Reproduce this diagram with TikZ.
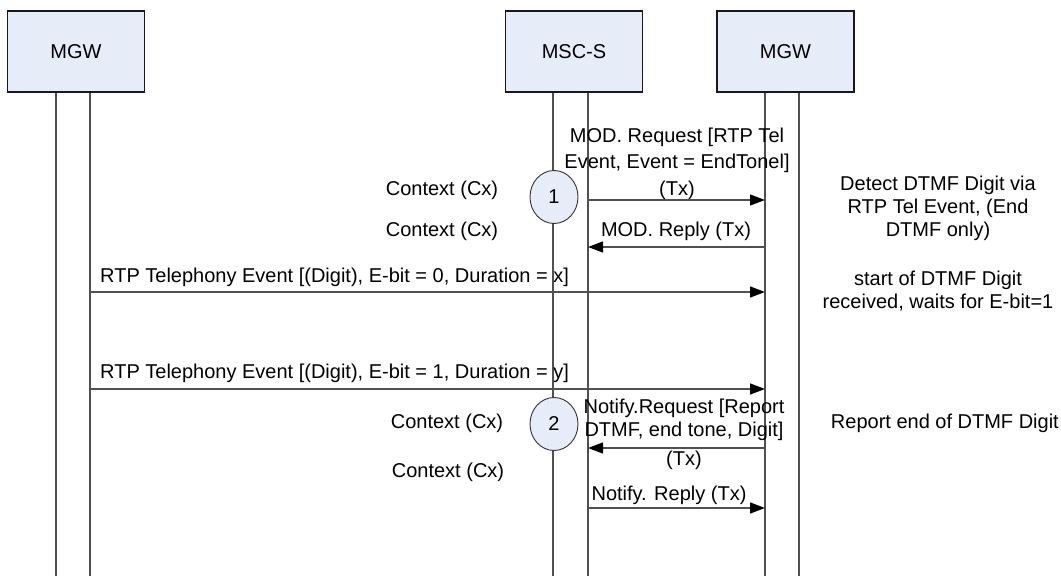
\documentclass[tikz,border=0pt]{standalone}
\usepackage{fontspec}
\setmainfont{Liberation Sans}
\usetikzlibrary{arrows.meta,shapes.geometric}
\definecolor{boxblue}{HTML}{E7EDF8}
\definecolor{linegray}{HTML}{505050}
\newcommand\fs{\fontsize{20bp}{23bp}\selectfont}
\begin{document}
\begin{tikzpicture}[x=1bp,y=-1bp,
  ent/.style={draw=black!90, fill=boxblue, line width=1.3bp, minimum width=137bp, minimum height=81bp, inner sep=0pt, font=\fs},
  life/.style={draw=linegray, line width=1.3bp},
  msg/.style={draw=linegray, line width=1.3bp, -{Triangle[length=15bp,width=11bp,color=black]}},
  lbl/.style={font=\fs, inner sep=0pt, align=center},
  circ/.style={ellipse, draw=black!80, fill=boxblue, line width=0.9bp, minimum width=48bp, minimum height=53bp, inner sep=0pt, font=\fs}
]
\useasboundingbox (0,0) rectangle (1061,576);

% entities
\node[ent] (mgwA) at (76,51.5) {MGW};
\node[ent] (msc) at (574,51.5) {MSC-S};
\node[ent] (mgwB) at (785.5,51.5) {MGW};

% lifeline coordinates
\coordinate (a1) at (56,576);
\coordinate (a2) at (90,576);
\coordinate (m1) at (553,576);
\coordinate (m2) at (588,576);
\coordinate (b1) at (765,576);
\coordinate (b2) at (799,576);

\draw[life] (mgwA.south -| a1) -- (a1);
\draw[life] (mgwA.south -| a2) -- (a2);
\draw[life] (msc.south -| m1) -- (m1);
\draw[life] (msc.south -| m2) -- (m2);
\draw[life] (mgwB.south -| b1) -- (b1);
\draw[life] (mgwB.south -| b2) -- (b2);

% messages
\draw[msg] (m2 |- 0,200) -- (b1 |- 0,200);
\draw[msg] (b1 |- 0,247) -- (m2 |- 0,247);
\draw[msg] (a2 |- 0,292) -- (b1 |- 0,292);
\draw[msg] (a2 |- 0,389) -- (b1 |- 0,389);
\draw[msg] (b1 |- 0,448) -- (m2 |- 0,448);
\draw[msg] (m2 |- 0,508) -- (b1 |- 0,508);

% circles
\node[circ] (c1) at (554,197) {1};
\node[circ] (c2) at (554,424) {2};

% labels
\node[lbl, font=\fontsize{20bp}{26.5bp}\selectfont] (modreq) at (677,163.5) {MOD. Request [RTP Tel\\Event, Event = EndTonel]\\(Tx)};
\node[lbl] (modrep) at (676,231) {MOD. Reply (Tx)};
\node[lbl] (cx1) at (442,190) {Context (Cx)};
\node[lbl] (cx2) at (442,231) {Context (Cx)};
\node[lbl, anchor=west] (rtp1) at (100,277) {RTP Telephony Event [(Digit), E-bit = 0, Duration = x]};
\node[lbl, anchor=west] (rtp2) at (100,373) {RTP Telephony Event [(Digit), E-bit = 1, Duration = y]};
\node[lbl] (notreq) at (684,434) {Notify.Request [Report\\DTMF, end tone, Digit]\\[6bp](Tx)};
\node[lbl] (notrep) at (669,495) {Notify. Reply (Tx)};
\node[lbl] (cx3) at (447,423) {Context (Cx)};
\node[lbl] (cx4) at (448,472) {Context (Cx)};
\node[lbl] (det) at (938,208) {Detect DTMF Digit via\\RTP Tel Event, (End\\DTMF only)};
\node[lbl] (start) at (938,291) {start of DTMF Digit\\received, waits for E-bit=1};
\node[lbl, anchor=east] (rep) at (1059,423) {Report end of DTMF Digit};
\end{tikzpicture}
\end{document}
